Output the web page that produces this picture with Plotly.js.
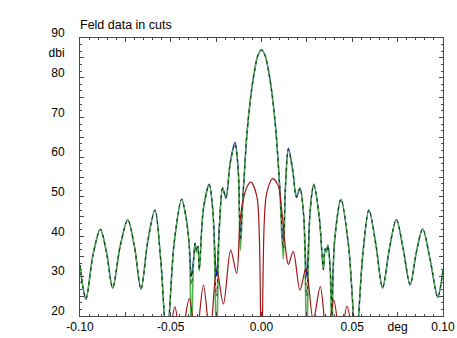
<!DOCTYPE html>
<html>
<head>
<meta charset="utf-8">
<script src="https://cdn.plot.ly/plotly-3.0.1.min.js"></script>
<style>html,body{margin:0;padding:0;background:#fff;}#chart{width:457px;height:338px;}</style>
</head>
<body>
<div id="chart"></div>
<script>
// Angle positions of the co-polar cuts (deg)
const xCo = [-0.1000,-0.0983,-0.0967,-0.0928,-0.0888,-0.0854,-0.0820,-0.0779,-0.0737,-0.0700,-0.0664,-0.0626,-0.0587,-0.0555,-0.0522,-0.0481,-0.0440,-0.0415,-0.0398,-0.0386,-0.0375,-0.0366,-0.0358,-0.0350,-0.0343,-0.0320,-0.0288,-0.0268,-0.0248,-0.0232,-0.0214,-0.0196,-0.0172,-0.0146,-0.0128,-0.0117,-0.0100,-0.0080,-0.0060,-0.0040,-0.0020,0.0000,0.0020,0.0040,0.0060,0.0080,0.0100,0.0120,0.0133,0.0148,0.0172,0.0192,0.0212,0.0232,0.0249,0.0268,0.0288,0.0318,0.0341,0.0350,0.0358,0.0366,0.0378,0.0388,0.0402,0.0438,0.0480,0.0521,0.0558,0.0592,0.0630,0.0667,0.0705,0.0743,0.0781,0.0819,0.0853,0.0888,0.0930,0.0971,0.1000];

// Co-polar cut 1 (blue)
const coBlue = [32.8,27.0,24.2,35.5,41.8,36.0,27.0,37.5,44.2,37.5,26.7,39.0,46.7,34.0,14,38.5,49.4,44.6,37.8,30,34,38.4,36.5,37.6,31.8,47.0,53.2,46.5,30,43.0,52.3,49.6,58.8,63.7,57.0,40.5,52.0,66.0,75.0,81.3,85.6,87.0,85.6,81.4,75.2,66.3,53.0,38.5,54.0,62.3,57.0,49.8,52.0,45.5,30,46.5,53.0,45.0,31.8,37.0,36.2,37.9,32.5,24,38.5,49.4,37.5,14,35.5,46.7,38.0,27.0,37.0,44.3,36.8,27.8,36.0,41.9,34.0,24.7,31.6];

// Co-polar cut 2 (black dashed)
const coBlack = [32.8,27.0,24.3,35.5,41.8,36.0,27.1,37.5,44.2,37.5,26.8,39.0,46.7,34.0,14,38.5,49.4,44.6,37.6,28,33.5,38.3,36.3,37.5,31.6,47.0,53.1,46.5,25,42.5,52.2,49.8,58.6,63.4,56.5,39.0,51.8,66.0,75.0,81.3,85.6,87.0,85.6,81.4,75.2,66.3,52.8,37.0,53.5,62.0,56.8,50.0,52.2,45.5,25,46.5,53.1,45.0,31.7,36.9,36.1,37.8,32.2,20,38.5,49.4,37.5,14,35.5,46.7,38.0,27.1,37.0,44.3,36.8,27.9,36.0,41.9,34.0,24.8,31.6];

// Co-polar cut 3 (green)
const coGreen = [32.8,27.0,24.4,35.5,41.8,36.0,27.2,37.5,44.2,37.5,26.9,39.0,46.7,34.0,14,38.5,49.4,44.6,37.5,14,33.0,38.2,36.0,37.3,31.4,47.0,53.0,46.5,14,42.0,52.1,50.0,58.5,63.0,56.0,36.5,51.5,66.0,75.0,81.3,85.6,87.0,85.6,81.4,75.2,66.3,52.5,34.3,53.0,61.8,56.5,50.3,52.3,45.5,14,46.5,53.2,45.0,31.6,36.8,36.0,37.8,32.0,14,38.5,49.4,37.5,14,35.5,46.7,38.0,27.2,37.0,44.3,36.8,28.0,36.0,41.9,34.0,25.0,31.6];

// Cross-polar cut (red)
const xCross = [-0.0540,-0.0510,-0.0477,-0.0444,-0.0398,-0.0361,-0.0320,-0.0284,-0.0247,-0.0210,-0.0170,-0.0137,-0.0119,-0.0100,-0.0080,-0.0058,-0.0026,-0.0012,0.0000,0.0015,0.0029,0.0062,0.0093,0.0111,0.0133,0.0148,0.0175,0.0212,0.0245,0.0285,0.0324,0.0361,0.0398,0.0436,0.0471,0.0508,0.0540];
const crossRed = [10,14,22.3,14,24.4,14,27.8,15,31.8,23.0,36.6,30.7,43.5,49.4,52.5,53.7,50.2,40.0,5,43.5,51.0,54.6,52.7,46.9,36.8,33.0,36.2,26.5,32.0,19,27.4,14,24.0,14,22.5,14,10];

// Axis ticks and labels
const xTickVals = [-0.100,-0.075,-0.050,-0.025,0.000,0.025,0.050,0.075,0.100];
const xTickText = ['-0.10','','-0.05','','0.00','','0.05','deg','0.10'];
const yTickVals = [20,25,30,35,40,45,50,55,60,65,70,75,80,85,90];
const yTickText = ['20','','30','','40','','50','','60','','70','','80','dbi','90'];
const chartTitle = 'Feld data in cuts';

const font = {family: 'Liberation Sans, Arial, sans-serif', size: 12, color: '#000'};
const lineCol = '#4a4a4a';

const traces = [
  {x: xCo, y: coBlue, mode: 'lines', line: {color: '#1010c0', width: 1.2, shape: 'spline', smoothing: 0.9}, hoverinfo: 'skip'},
  {x: xCo, y: coGreen, mode: 'lines', line: {color: '#55b055', width: 1.6, shape: 'spline', smoothing: 0.9}, hoverinfo: 'skip'},
  {x: xCo, y: coBlack, mode: 'lines', line: {color: '#0a2a0a', width: 1, dash: '3px,4px', shape: 'spline', smoothing: 0.9}, hoverinfo: 'skip'},
  {x: xCross, y: crossRed, mode: 'lines', line: {color: '#a31515', width: 1.2, shape: 'spline', smoothing: 0.9}, hoverinfo: 'skip'}
];

const axisCommon = {
  showgrid: false, zeroline: false, showline: true, linecolor: lineCol, linewidth: 1,
  mirror: 'ticks', ticks: 'inside', ticklen: 4, tickcolor: lineCol, tickwidth: 1,
  tickmode: 'array', tickfont: font
};

const layout = {
  width: 457, height: 338,
  margin: {l: 80, r: 14, t: 38, b: 22},
  paper_bgcolor: '#fff', plot_bgcolor: '#fff',
  showlegend: false,
  font: font,
  title: {text: chartTitle, font: {family: 'Liberation Sans, Arial, sans-serif', size: 12.5, color: '#000'},
          xref: 'paper', x: 0, xanchor: 'left', yref: 'container', y: 0.928, yanchor: 'middle'},
  xaxis: Object.assign({}, axisCommon, {
    range: [-0.1, 0.1], tickvals: xTickVals, ticktext: xTickText,
    minor: {tickmode: 'linear', tick0: -0.1, dtick: 0.005, ticks: 'inside', ticklen: 2, tickcolor: lineCol}
  }),
  yaxis: Object.assign({}, axisCommon, {
    range: [20, 90], tickvals: yTickVals, ticktext: yTickText,
    ticklabelstandoff: 12, ticklabelshift: -5,
    minor: {tickmode: 'linear', tick0: 20, dtick: 5/3, ticks: 'inside', ticklen: 2, tickcolor: lineCol}
  })
};

Plotly.newPlot('chart', traces, layout, {staticPlot: true, displayModeBar: false});
</script>
</body>
</html>
